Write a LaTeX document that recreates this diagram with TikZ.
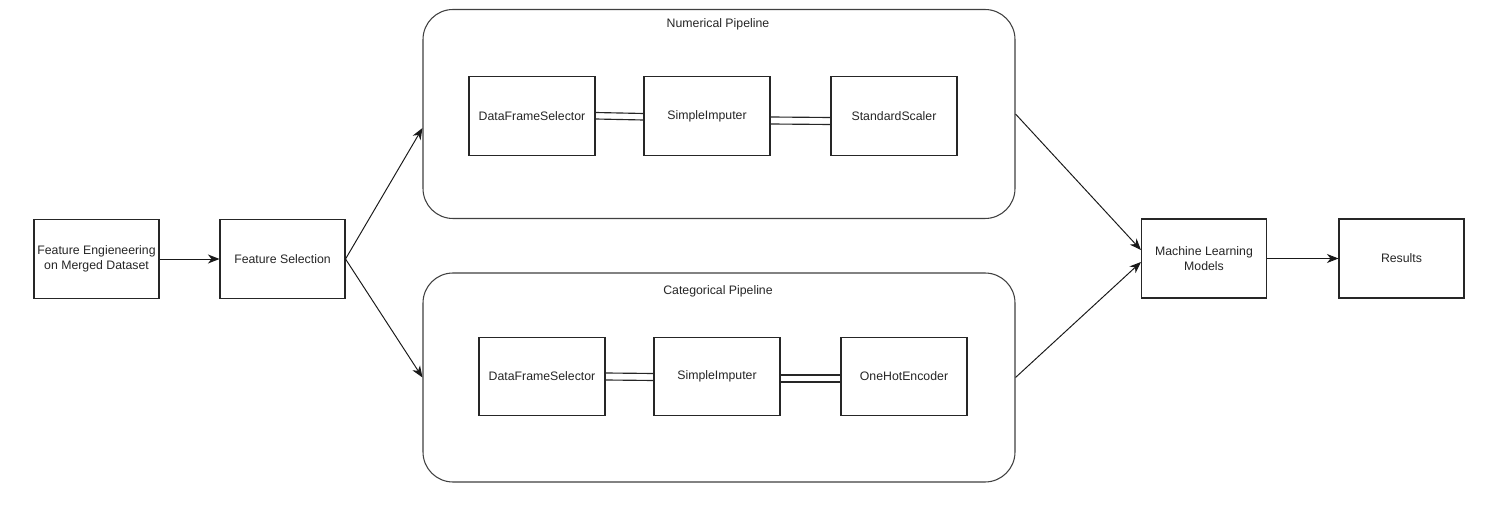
\documentclass[tikz,border=0pt]{standalone}
\usepackage{fontspec}
\setmainfont{Liberation Sans}
\usetikzlibrary{arrows.meta}
\begin{document}
\begin{tikzpicture}[
  boite/.style={draw=black!85,line width=0.6pt,minimum width=2.5cm,minimum height=1.58cm,align=center,inner sep=1pt},
  etape/.style={boite,minimum width=2.52cm,minimum height=1.57cm},
  bloc/.style={draw=black!75,line width=0.6pt,rounded corners=0.6cm,minimum width=11.84cm,minimum height=4.18cm},
  fleche/.style={draw=black!90,line width=0.55pt,-{Stealth[length=2.3mm,width=1.8mm,inset=0.7mm]}},
  lien/.style={draw=black!85,line width=0.65pt},
  every node/.style={font=\fontsize{7}{8.6}\selectfont,text=black!85}
]
\definecolor{fond}{HTML}{FFFFFF}
\useasboundingbox[fill=fond] (0,0) rectangle (29.98,10.1);

\node[boite] (fe) at (1.93,4.92) {Feature Engieneering\\on Merged Dataset};%la premiere boite
\node[boite] (fs) at (5.65,4.92) {Feature Selection};%la selection

\node[bloc] (num) at (14.38,7.82) {};%le bloc du haut
\node (num_titre) at (14.36,9.62) {Numerical Pipeline};
\node[etape] (num_dfs) at (10.64,7.78) {DataFrameSelector};
\node[etape] (num_si) at (14.14,7.78) {SimpleImputer};
\node[etape] (num_ss) at (17.88,7.78) {StandardScaler};

\node[bloc] (cat) at (14.38,2.55) {};%le bloc du bas
\node (cat_titre) at (14.36,4.28) {Categorical Pipeline};
\node[etape] (cat_dfs) at (10.84,2.57) {DataFrameSelector};
\node[etape] (cat_si) at (14.34,2.57) {SimpleImputer};
\node[etape] (cat_ohe) at (18.08,2.57) {OneHotEncoder};

\node[boite] (ml) at (24.08,4.93) {Machine Learning\\Models};%les modeles
\node[boite] (res) at (28.03,4.93) {Results};%les resultats

%les doubles traits
\draw[lien] ([yshift=0.07cm]num_dfs.east) -- ([yshift=0.05cm]num_si.west);
\draw[lien] ([yshift=-0.06cm]num_dfs.east) -- ([yshift=-0.08cm]num_si.west);
\draw[lien] ([yshift=-0.02cm]num_si.east) -- ([yshift=-0.03cm]num_ss.west);
\draw[lien] ([yshift=-0.16cm]num_si.east) -- ([yshift=-0.17cm]num_ss.west);
\draw[lien] ([yshift=0.07cm]cat_dfs.east) -- ([yshift=0.06cm]cat_si.west);
\draw[lien] ([yshift=-0.07cm]cat_dfs.east) -- ([yshift=-0.08cm]cat_si.west);
\draw[lien] ([yshift=0.03cm]cat_si.east) -- ([yshift=0.03cm]cat_ohe.west);
\draw[lien] ([yshift=-0.11cm]cat_si.east) -- ([yshift=-0.11cm]cat_ohe.west);

\draw[fleche] (fe.east) -- (fs.west);
\draw[fleche] (fs.east) -- ([yshift=-0.28cm]num.west);
\draw[fleche] (fs.east) -- (cat.west);
\draw[fleche] (num.east) -- ([yshift=0.17cm]ml.west);
\draw[fleche] (cat.east) -- ([yshift=-0.07cm]ml.west);
\draw[fleche] (ml.east) -- (res.west);

\end{tikzpicture}
\end{document}
